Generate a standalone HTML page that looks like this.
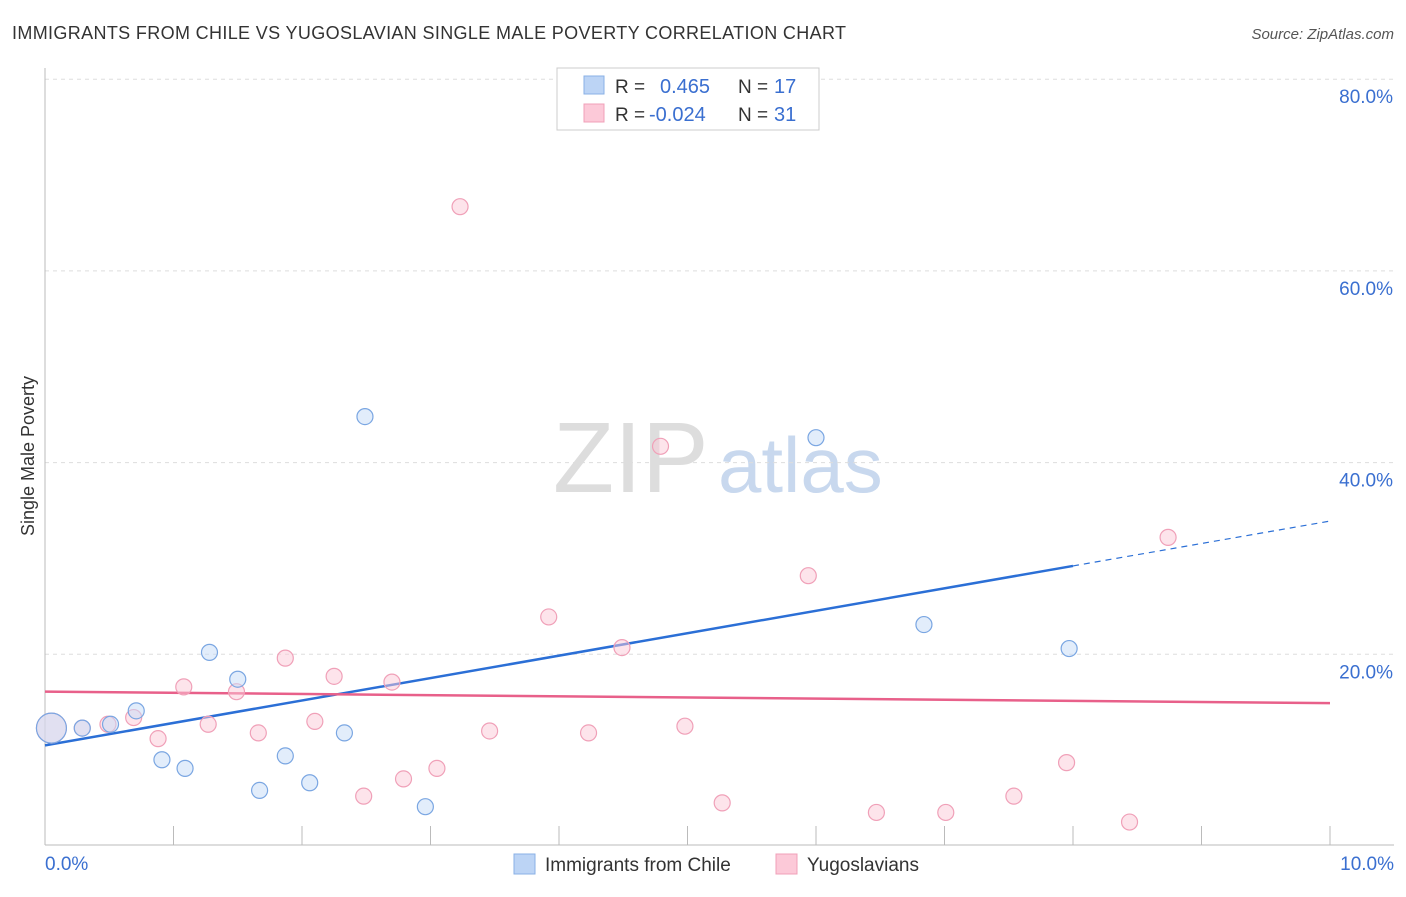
<!DOCTYPE html>
<html><head><meta charset="utf-8"><style>
body{margin:0;background:#fff;font-family:"Liberation Sans",sans-serif;}
svg text{font-family:"Liberation Sans",sans-serif;}
</style></head><body>
<svg id="c" width="1406" height="892" xmlns="http://www.w3.org/2000/svg">
<text x="12" y="39" font-size="18" fill="#333" textLength="834">IMMIGRANTS FROM CHILE VS YUGOSLAVIAN SINGLE MALE POVERTY CORRELATION CHART</text>
<text x="1394" y="39" font-size="15" fill="#555" font-style="italic" text-anchor="end">Source: ZipAtlas.com</text>
<text x="34" y="456" font-size="18" fill="#333" text-anchor="middle" transform="rotate(-90 34 456)">Single Male Poverty</text>
<text x="553" y="492" font-size="100" fill="#ddd" font-family="Liberation Serif">ZIP</text>
<text x="718" y="492" font-size="78" fill="#c8d8ee">atlas</text>
<g id="grid"></g><g id="lines"></g><g id="pts"></g>
<g>
<rect x="557" y="68" width="262" height="62" fill="#fff" stroke="#ccc"/>
<rect x="584" y="76" width="20" height="18" fill="#bcd4f5" stroke="#8ab0e6"/>
<rect x="584" y="104" width="20" height="18" fill="#fcc9d8" stroke="#f0a0b8"/>
<text x="615" y="93" font-size="19" fill="#333">R =</text>
<text x="660" y="93" font-size="20" fill="#3a6fd0">0.465</text>
<text x="738" y="93" font-size="19" fill="#333">N =</text>
<text x="774" y="93" font-size="20" fill="#3a6fd0">17</text>
<text x="615" y="121" font-size="19" fill="#333">R =</text>
<text x="649" y="121" font-size="20" fill="#3a6fd0">-0.024</text>
<text x="738" y="121" font-size="19" fill="#333">N =</text>
<text x="774" y="121" font-size="20" fill="#3a6fd0">31</text>
</g>
<g>
<rect x="514" y="854" width="21" height="20" fill="#bcd4f5" stroke="#8ab0e6"/>
<text x="545" y="871" font-size="19" fill="#333">Immigrants from Chile</text>
<rect x="776" y="854" width="21" height="20" fill="#fcc9d8" stroke="#f0a0b8"/>
<text x="807" y="871" font-size="19" fill="#333">Yugoslavians</text>
</g>
</svg>
<script>
const blueX=[0.05,0.29,0.51,0.71,0.91,1.09,1.28,1.50,1.67,1.87,2.06,2.33,2.49,2.96,6.0,6.84,7.97];
const blueY=[12.3,12.3,12.7,14.1,9.0,8.1,20.2,17.4,5.8,9.4,6.6,11.8,44.8,4.1,42.6,23.1,20.6];
const pinkX=[0.05,0.29,0.49,0.69,0.88,1.08,1.27,1.49,1.66,1.87,2.10,2.25,2.48,2.70,2.79,3.05,3.23,3.46,3.92,4.23,4.49,4.79,4.98,5.27,5.94,6.47,7.01,7.54,7.95,8.44,8.74];
const pinkY=[12.3,12.3,12.7,13.4,11.2,16.6,12.7,16.1,11.8,19.6,13.0,17.7,5.2,17.1,7.0,8.1,66.7,12.0,23.9,11.8,20.7,41.7,12.5,4.5,28.2,3.5,3.5,5.2,8.7,2.5,32.2];
const yTicks=[20,40,60,80];
const yTickLabels=["20.0%","40.0%","60.0%","80.0%"];
const blueTrend=[10.5,33.9];
const pinkTrend=[16.1,14.9];
const NS="http://www.w3.org/2000/svg";
const sx=v=>45+v*128.5, sy=v=>846-v*9.585;
function mk(t,a,p){const e=document.createElementNS(NS,t);for(const k in a)e.setAttribute(k,a[k]);p.appendChild(e);return e;}
const g=document.getElementById('grid');
yTicks.forEach((t,i)=>{
 const l=mk('line',{x1:45,x2:1394,y1:sy(t),y2:sy(t),stroke:'#ddd','stroke-dasharray':'4,4'},g);
 
 
 const tx=mk('text',{x:1393,y:sy(t)+24,'font-size':19,fill:'#3a6fd0','text-anchor':'end'},g);
 tx.textContent=yTickLabels[i];
 
 
});
const ax=mk('line',{x1:45,x2:1394,y1:845,y2:845,stroke:'#bbb'},g);


const ay=mk('line',{x1:45,x2:45,y1:68,y2:845,stroke:'#bbb'},g);


for(let i=1;i<=10;i++){const t=mk('line',{x1:sx(i),x2:sx(i),y1:826,y2:845,stroke:'#bbb'},g);
 
 }
const x0=mk('text',{x:45,y:870,'font-size':19,fill:'#3a6fd0'},g);x0.textContent="0.0%";


const x1=mk('text',{x:1394,y:870,'font-size':19,fill:'#3a6fd0','text-anchor':'end'},g);x1.textContent="10.0%";


const pg=document.getElementById('pts');
function pts(X,Y,fill,stroke,name){X.forEach((x,i)=>{
 const c=mk('circle',{cx:sx(x),cy:sy(Y[i]),r:i==0?15:8,fill:fill,'fill-opacity':0.5,stroke:stroke,'stroke-width':1.2},pg);
 
 });}
pts(pinkX,pinkY,'#fcc9d8','#f0a0b8','yugoslavians-point');
pts(blueX,blueY,'#c6dbf7','#7aa6e2','chile-point');
const lg=document.getElementById('lines');
const bEnd=blueTrend[0]+(blueTrend[1]-blueTrend[0])*0.8;
const b1=mk('line',{x1:sx(0),y1:sy(blueTrend[0]),x2:sx(8),y2:sy(bEnd),stroke:'#2b6fd6','stroke-width':2.5},lg);


const b2=mk('line',{x1:sx(8),y1:sy(bEnd),x2:sx(10),y2:sy(blueTrend[1]),stroke:'#2b6fd6','stroke-width':1.2,'stroke-dasharray':'6,5'},lg);


const p1=mk('line',{x1:sx(0),y1:sy(pinkTrend[0]),x2:sx(10),y2:sy(pinkTrend[1]),stroke:'#e8608a','stroke-width':2.5},lg);


</script>
</body></html>
